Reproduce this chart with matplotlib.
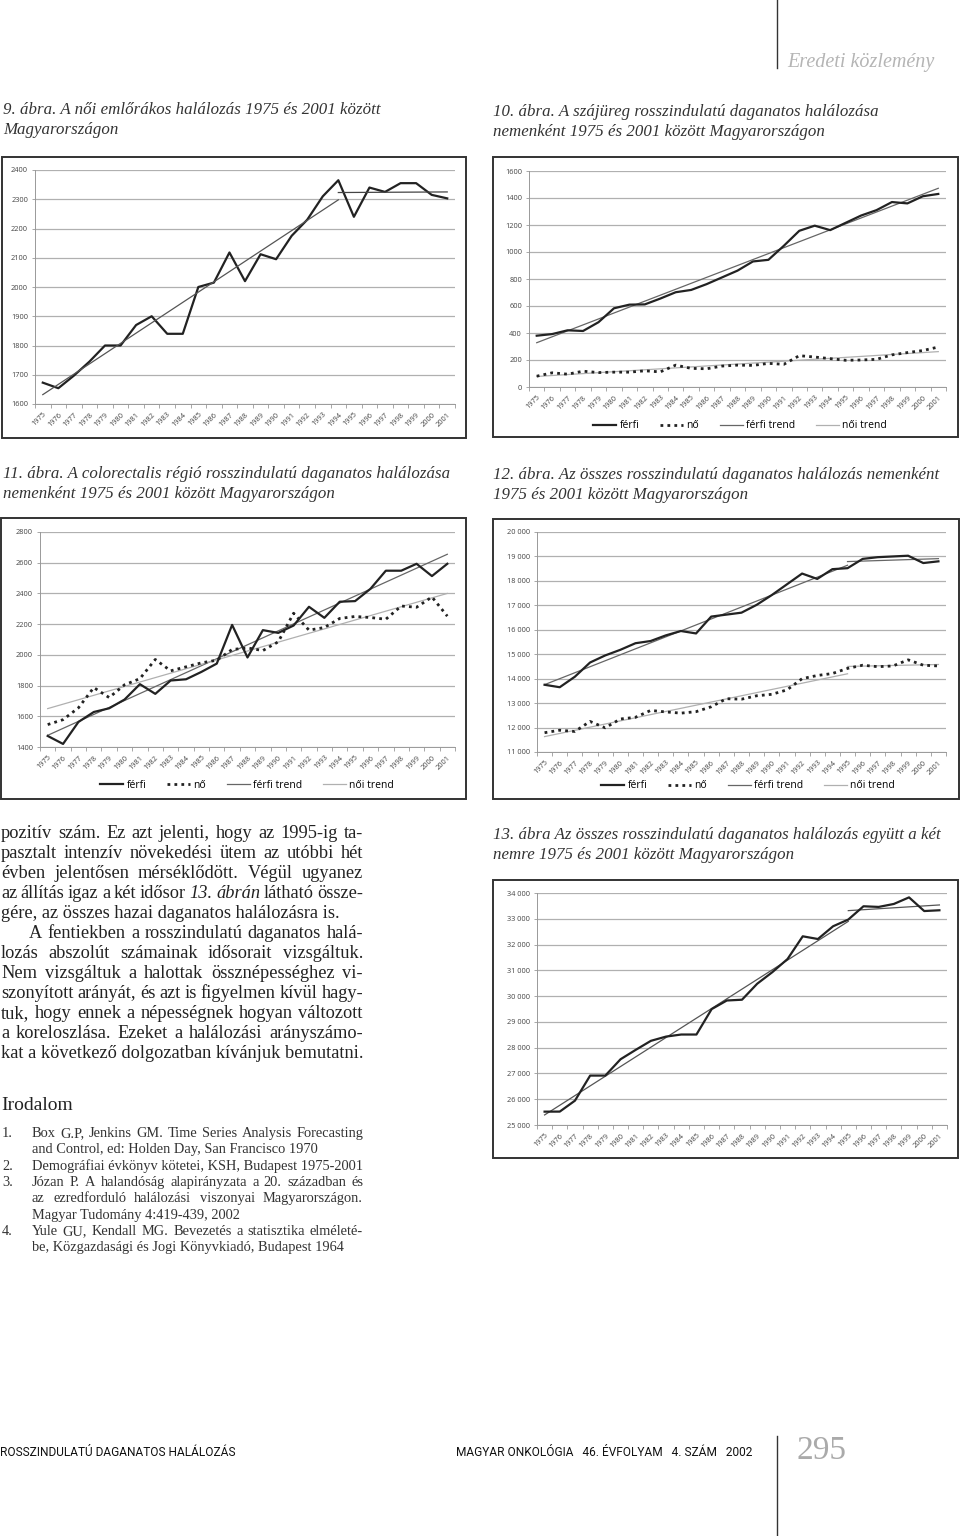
import numpy as np
import matplotlib
matplotlib.use('Agg')
import matplotlib.pyplot as plt
from matplotlib.lines import Line2D
from matplotlib.patches import Rectangle

W, H = 960, 1536
SERIF = ['Liberation Serif', 'DejaVu Serif']
SANS = ['Open Sans', 'DejaVu Sans']

# évek (kategóriák)
evek = [str(e) for e in range(1975, 2002)]

# 9. ábra - női emlőrák
noi_emlo = [1673, 1654, 1697, 1745, 1800, 1800, 1870, 1900, 1840, 1840, 2000, 2015, 2118, 2020,
            2112, 2095, 2175, 2230, 2310, 2365, 2240, 2340, 2325, 2355, 2355, 2315, 2303]
emlo_trend1_ev, emlo_trend1 = ['1975', '1994'], [1632, 2298]
emlo_trend2_ev, emlo_trend2 = ['1994', '2001'], [2323, 2325]

# 10. ábra - szájüreg
szaj_ferfi = [380, 392, 420, 415, 480, 583, 610, 612, 655, 702, 719, 762, 812, 862,
              930, 942, 1046, 1157, 1195, 1162, 1216, 1270, 1310, 1370, 1360, 1413, 1430]
szaj_no = [80, 105, 95, 117, 107, 110, 110, 120, 112, 162, 138, 135, 155, 162,
           160, 175, 168, 232, 222, 210, 198, 200, 205, 238, 255, 270, 296]
szaj_ferfi_trend_ev, szaj_ferfi_trend = ['1975', '2001'], [328, 1472]
szaj_noi_trend_ev, szaj_noi_trend = ['1975', '2001'], [78, 262]

# 11. ábra - colorectalis
colo_ferfi = [1472, 1420, 1563, 1628, 1652, 1709, 1809, 1746, 1833, 1841, 1889, 1943, 2195, 1983,
              2161, 2143, 2191, 2313, 2241, 2346, 2350, 2430, 2548, 2548, 2593, 2513, 2593]
colo_no = [1546, 1578, 1655, 1787, 1722, 1805, 1845, 1970, 1896, 1922, 1948, 1965, 2035, 2045,
           2028, 2085, 2271, 2161, 2178, 2237, 2250, 2243, 2232, 2318, 2310, 2377, 2252]
colo_ferfi_trend_ev, colo_ferfi_trend = ['1975', '2001'], [1476, 2655]
colo_noi_trend_ev, colo_noi_trend = ['1975', '2001'], [1650, 2400]

# 12. ábra - összes, nemenként
ossz_ferfi = [13750, 13650, 14080, 14660, 14950, 15180, 15450, 15540, 15770, 15950, 15850, 16540, 16620, 16700,
              17020, 17420, 17860, 18300, 18080, 18480, 18520, 18900, 18970, 19000, 19030, 18730, 18800]
ossz_no = [11790, 11890, 11840, 12250, 11990, 12350, 12420, 12700, 12640, 12590, 12650, 12850, 13180, 13160,
           13300, 13360, 13540, 14000, 14130, 14210, 14420, 14550, 14490, 14520, 14770, 14550, 14520]
ossz_ferfi_trend1_ev, ossz_ferfi_trend1 = ['1975', '1995'], [13755, 18640]
ossz_ferfi_trend2_ev, ossz_ferfi_trend2 = ['1995', '2001'], [18790, 18910]
ossz_noi_trend1_ev, ossz_noi_trend1 = ['1975', '1995'], [11630, 14200]
ossz_noi_trend2_ev, ossz_noi_trend2 = ['1995', '2001'], [14500, 14580]

# 13. ábra - összes, együtt
egyutt = [25518, 25520, 25945, 26917, 26917, 27550, 27915, 28265, 28430, 28510, 28510, 29495, 29830, 29860,
          30480, 30930, 31440, 32320, 32215, 32710, 32970, 33485, 33460, 33575, 33830, 33300, 33330]
egyutt_trend1_ev, egyutt_trend1 = ['1975', '1995'], [25390, 32900]
egyutt_trend2_ev, egyutt_trend2 = ['1995', '2001'], [33316, 33536]

fig = plt.figure(figsize=(W / 100, H / 100), dpi=100)
fig.patch.set_facecolor('white')


def fy(y):
    return 1 - y / H


def tengely(x0, y0, x1, y1):
    return fig.add_axes([x0 / W, 1 - y1 / H, (x1 - x0) / W, (y1 - y0) / H])


def keret(x0, y0, x1, y1):
    fig.add_artist(Rectangle((x0 / W, 1 - y1 / H), (x1 - x0) / W, (y1 - y0) / H,
                             transform=fig.transFigure, fill=False, ec='#333333', lw=1.4))


def cim(x, y, sorok):
    for i, s in enumerate(sorok):
        fig.text(x / W, fy(y + i * 20), s, fontsize=12.2, style='italic', family=SERIF,
                 color='#333333', va='center')


def formaz(ax, ymin, ymax, lepes, ezres=False):
    ax.set_xlim(-0.5, 26.5)
    ax.set_ylim(ymin, ymax)
    ticks = list(range(ymin, ymax + 1, lepes))
    ax.set_yticks(ticks)
    if ezres:
        ax.set_yticklabels([f'{t // 1000} 000' for t in ticks], fontsize=5.3, color='#444', family=SANS)
    else:
        ax.set_yticklabels([str(t) for t in ticks], fontsize=5.3, color='#444', family=SANS)
    ax.set_xticks(range(len(evek)))
    ax.set_xticklabels(evek, rotation=45, ha='right', rotation_mode='anchor', fontsize=5.3,
                       color='#444', family=SANS)
    ax.set_xticks(np.arange(-0.5, 27, 1), minor=True)
    ax.tick_params(axis='x', which='major', length=0, pad=5)
    ax.tick_params(axis='x', which='minor', length=3, color='#999', width=0.6)
    ax.tick_params(axis='y', length=2, color='#999', width=0.6, pad=3)
    ax.grid(axis='y', color='#b0b0b0', lw=0.9)
    ax.set_axisbelow(True)
    for s in ['top', 'right']:
        ax.spines[s].set_visible(False)
    for s in ['left', 'bottom']:
        ax.spines[s].set_color('#999')
        ax.spines[s].set_linewidth(0.7)
    ax.patch.set_alpha(0)


def trend(ax, ev, ertek, szin, lw=0.9):
    ax.plot([evek.index(e) for e in ev], ertek, color=szin, lw=lw)


def jelmagyarazat(ax, x, y):
    h = [Line2D([], [], color='#222', lw=1.6),
         Line2D([], [], color='#222', lw=2, ls=(0, (1, 1.5))),
         Line2D([], [], color='#666', lw=0.9),
         Line2D([], [], color='#b0b0b0', lw=0.9)]
    ax.legend(h, ['férfi', 'nő', 'férfi trend', 'női trend'], loc='center',
              bbox_to_anchor=(x / W, fy(y)), bbox_transform=fig.transFigure, ncol=4,
              frameon=False, prop={'family': SANS, 'size': 7.5}, handlelength=2.2,
              handletextpad=0.3, columnspacing=2.0)


xs = np.arange(len(evek))
DOT = (0, (1, 1.5))

# ---- 9. ábra
cim(3, 110, ['9. ábra. A női emlőrákos halálozás 1975 és 2001 között', 'Magyarországon'])
keret(2, 157, 466, 438)
ax = tengely(35, 170, 455, 404)
formaz(ax, 1600, 2400, 100)
ax.plot(xs, noi_emlo, color='#222', lw=1.6)
trend(ax, emlo_trend1_ev, emlo_trend1, '#555')
trend(ax, emlo_trend2_ev, emlo_trend2, '#444')

# ---- 10. ábra
cim(493, 112, ['10. ábra. A szájüreg rosszindulatú daganatos halálozása',
               'nemenként 1975 és 2001 között Magyarországon'])
keret(493, 157, 958, 437)
ax = tengely(529, 171, 946, 387)
formaz(ax, 0, 1600, 200)
trend(ax, szaj_ferfi_trend_ev, szaj_ferfi_trend, '#666')
trend(ax, szaj_noi_trend_ev, szaj_noi_trend, '#b0b0b0')
ax.plot(xs, szaj_ferfi, color='#222', lw=1.6)
ax.plot(xs, szaj_no, color='#222', lw=2, ls=DOT)
jelmagyarazat(ax, 740, 426)

# ---- 11. ábra
cim(3, 474, ['11. ábra. A colorectalis régió rosszindulatú daganatos halálozása',
             'nemenként 1975 és 2001 között Magyarországon'])
keret(1, 518, 466, 799)
ax = tengely(40, 532, 455, 747)
formaz(ax, 1400, 2800, 200)
trend(ax, colo_ferfi_trend_ev, colo_ferfi_trend, '#666')
trend(ax, colo_noi_trend_ev, colo_noi_trend, '#b0b0b0')
ax.plot(xs, colo_ferfi, color='#222', lw=1.6)
ax.plot(xs, colo_no, color='#222', lw=2, ls=DOT)
jelmagyarazat(ax, 247, 785)

# ---- 12. ábra
cim(493, 475, ['12. ábra. Az összes rosszindulatú daganatos halálozás nemenként',
               '1975 és 2001 között Magyarországon'])
keret(493, 519, 959, 799)
ax = tengely(537, 532, 946, 752)
formaz(ax, 11000, 20000, 1000, ezres=True)
trend(ax, ossz_ferfi_trend1_ev, ossz_ferfi_trend1, '#666')
trend(ax, ossz_ferfi_trend2_ev, ossz_ferfi_trend2, '#666')
trend(ax, ossz_noi_trend1_ev, ossz_noi_trend1, '#b0b0b0')
trend(ax, ossz_noi_trend2_ev, ossz_noi_trend2, '#b0b0b0')
ax.plot(xs, ossz_ferfi, color='#222', lw=1.6)
ax.plot(xs, ossz_no, color='#222', lw=2, ls=DOT)
jelmagyarazat(ax, 748, 786)

# ---- 13. ábra
cim(493, 835, ['13. ábra Az összes rosszindulatú daganatos halálozás együtt a két',
               'nemre 1975 és 2001 között Magyarországon'])
keret(493, 880, 958, 1158)
ax = tengely(537, 893, 947, 1125)
formaz(ax, 25000, 34000, 1000, ezres=True)
trend(ax, egyutt_trend1_ev, egyutt_trend1, '#555')
trend(ax, egyutt_trend2_ev, egyutt_trend2, '#555')
ax.plot(xs, egyutt, color='#222', lw=1.6)

# ---- szöveg
renderer = fig.canvas.get_renderer()


def sor(szoveg, y, x0, x1, meret, sorkizart=True, szin='#222'):
    if not sorkizart and '_' not in szoveg:
        fig.text(x0 / W, fy(y), szoveg, fontsize=meret, family=SERIF, color=szin, va='baseline')
        return
    darabok = []
    for w in szoveg.split(' '):
        dolt = w.startswith('_')
        t = fig.text(0, fy(y), w.lstrip('_'), fontsize=meret, family=SERIF,
                     style='italic' if dolt else 'normal', color=szin, va='baseline')
        darabok.append(t)
    szel = [t.get_window_extent(renderer).width for t in darabok]
    if sorkizart and len(darabok) > 1:
        koz = (x1 - x0 - sum(szel)) / (len(darabok) - 1)
    else:
        koz = meret * 100 / 72 * 0.25
    x = x0
    for t, s in zip(darabok, szel):
        t.set_x(x / W)
        x += s + koz


bekezdes = [
    ('pozitív szám. Ez azt jelenti, hogy az 1995-ig ta-', True, 0),
    ('pasztalt intenzív növekedési ütem az utóbbi hét', True, 0),
    ('évben jelentősen mérséklődött. Végül ugyanez', True, 0),
    ('az állítás igaz a két idősor _13. _ábrán látható össze-', True, 0),
    ('gére, az összes hazai daganatos halálozásra is.', False, 0),
    ('A fentiekben a rosszindulatú daganatos halá-', True, 28),
    ('lozás abszolút számainak idősorait vizsgáltuk.', True, 0),
    ('Nem vizsgáltuk a halottak össznépességhez vi-', True, 0),
    ('szonyított arányát, és azt is figyelmen kívül hagy-', True, 0),
    ('tuk, hogy ennek a népességnek hogyan változott', True, 0),
    ('a koreloszlása. Ezeket a halálozási arányszámo-', True, 0),
    ('kat a következő dolgozatban kívánjuk bemutatni.', False, 0),
]
for i, (s, kiz, beh) in enumerate(bekezdes):
    sor(s, 838 + i * 20, 1 + beh, 363, 13.2, kiz)

fig.text(1 / W, fy(1105), 'Irodalom', fontsize=14, family=SERIF, color='#222', va='center')

irodalom = [
    ('1.', 'Box G.P, Jenkins GM. Time Series Analysis Forecasting', True),
    ('', 'and Control, ed: Holden Day, San Francisco 1970', False),
    ('2.', 'Demográfiai évkönyv kötetei, KSH, Budapest 1975-2001', False),
    ('3.', 'Józan P. A halandóság alapirányzata a 20. században és', True),
    ('', 'az ezredforduló halálozási viszonyai Magyarországon.', True),
    ('', 'Magyar Tudomány 4:419-439, 2002', False),
    ('4.', 'Yule GU, Kendall MG. Bevezetés a statisztika elméleté-', True),
    ('', 'be, Közgazdasági és Jogi Könyvkiadó, Budapest 1964', False),
]
for i, (n, s, kiz) in enumerate(irodalom):
    y = 1137 + i * 16.3
    if n:
        fig.text(2 / W, fy(y), n, fontsize=10.4, family=SERIF, color='#333', va='baseline')
    sor(s, y, 32, 363, 10.4, kiz, szin='#333')

# ---- fejléc, lábléc
fig.add_artist(Line2D([777 / W, 777 / W], [1, fy(68)], transform=fig.transFigure, color='#333', lw=1))
fig.add_artist(Line2D([777 / W, 777 / W], [fy(1436), 0], transform=fig.transFigure, color='#333', lw=1))
fig.text(787 / W, fy(63), 'Eredeti közlemény', fontsize=14.5, style='italic', family=SERIF,
         color='#b5b5b5', va='center')
fig.text(0, fy(1452), 'ROSSZINDULATÚ DAGANATOS HALÁLOZÁS', fontsize=8.6,
         family=['Roboto', 'DejaVu Sans'], color='#111', va='center')
fig.text(752 / W, fy(1452), 'MAGYAR ONKOLÓGIA   46. ÉVFOLYAM   4. SZÁM   2002', fontsize=8.6,
         family=['Roboto', 'DejaVu Sans'], color='#111', va='center', ha='right')
fig.text(796 / W, fy(1451), '295', fontsize=24, family=SERIF, color='#aaaaaa', va='center')

fig.savefig('out.png', dpi=100)
